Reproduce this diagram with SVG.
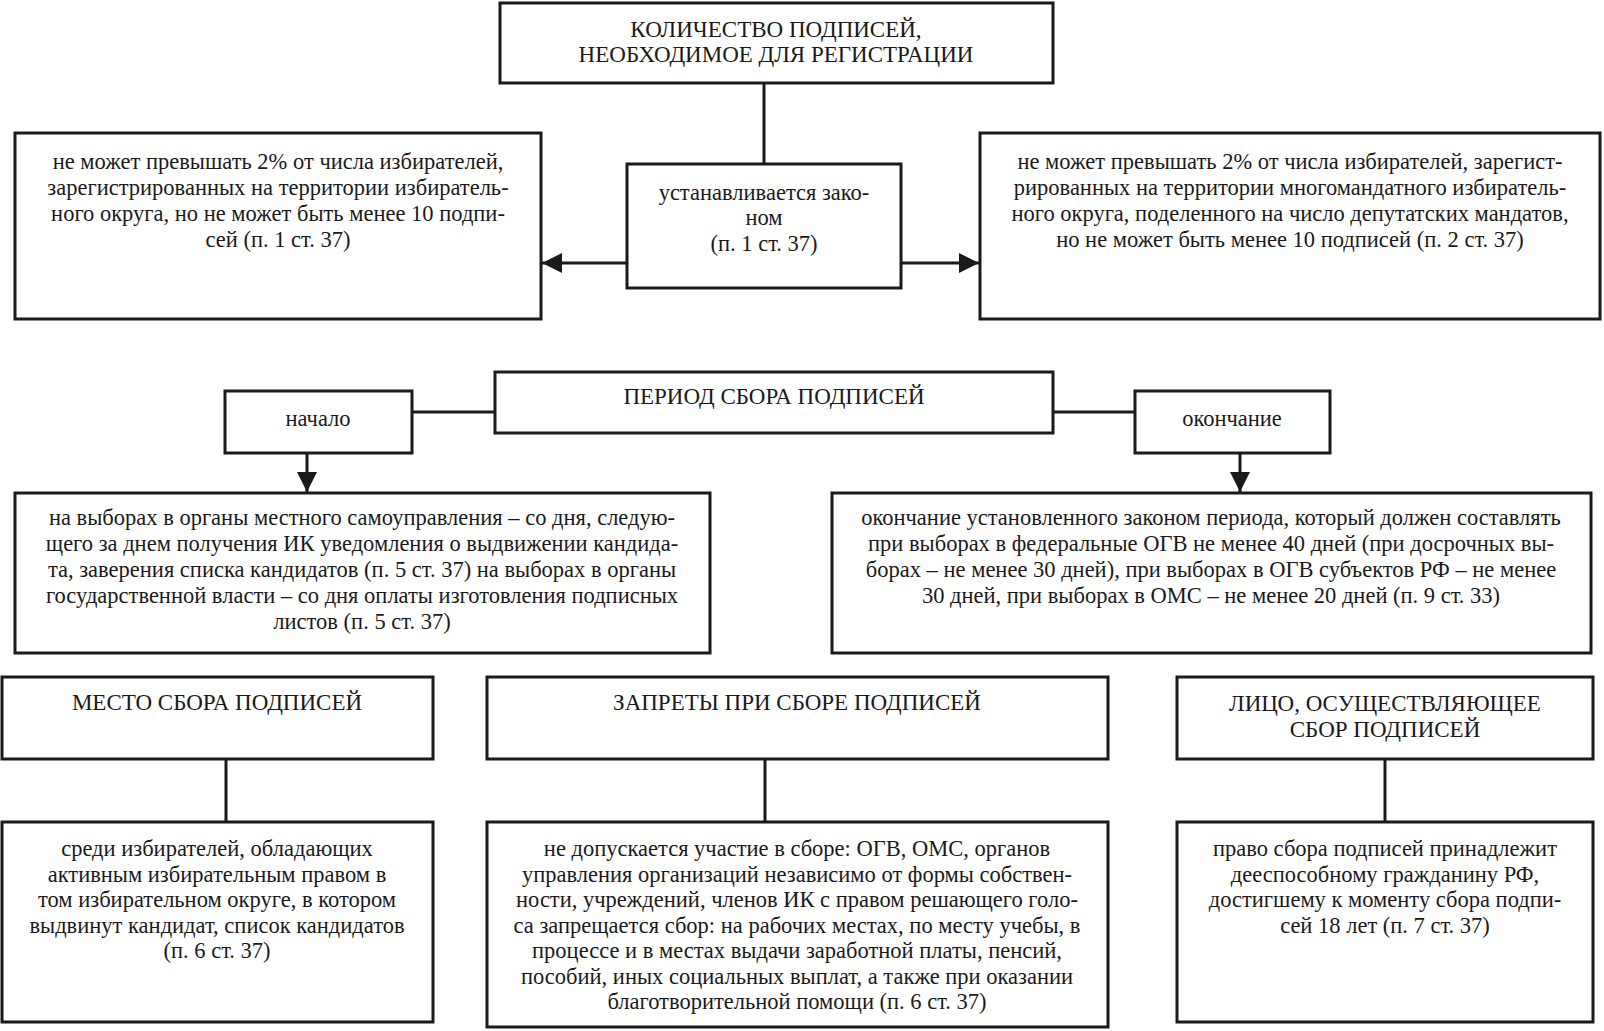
<svg xmlns="http://www.w3.org/2000/svg" width="1604" height="1031" viewBox="0 0 1604 1031">
<style>
.box{fill:#fff;stroke:#1a1a1a;stroke-width:3}
.t{font-family:"Liberation Serif","Times New Roman",serif;font-size:22.5px;fill:#1a1a1a;text-anchor:middle}
.h{font-family:"Liberation Serif","Times New Roman",serif;font-size:23px;fill:#1a1a1a;text-anchor:middle}
.c{stroke:#1a1a1a;stroke-width:3;fill:none}
</style>
<defs>
<marker id="ah" markerUnits="userSpaceOnUse" markerWidth="22" markerHeight="22" refX="20" refY="10" orient="auto">
<path d="M0,0 L20,10 L0,20 Z" fill="#1a1a1a"/>
</marker>
</defs>
<rect width="1604" height="1031" fill="#fff"/>
<g id="connectors">
<line class="c" x1="764" y1="83" x2="764" y2="164"/>
<line class="c" x1="626" y1="263" x2="542" y2="263" marker-end="url(#ah)"/>
<line class="c" x1="901" y1="263" x2="979" y2="263" marker-end="url(#ah)"/>
<line class="c" x1="412" y1="412" x2="495" y2="412"/>
<line class="c" x1="1053" y1="412" x2="1135" y2="412"/>
<line class="c" x1="307" y1="453" x2="307" y2="492" marker-end="url(#ah)"/>
<line class="c" x1="1240" y1="453" x2="1240" y2="492" marker-end="url(#ah)"/>
<line class="c" x1="226" y1="759" x2="226" y2="822"/>
<line class="c" x1="765" y1="759" x2="765" y2="822"/>
<line class="c" x1="1385" y1="759" x2="1385" y2="822"/>
</g>
<g id="n-kolichestvo">
<rect class="box" x="500" y="3" width="553" height="80"/>
<text class="h" x="776" y="37">КОЛИЧЕСТВО ПОДПИСЕЙ,</text>
<text class="h" x="776" y="62">НЕОБХОДИМОЕ ДЛЯ РЕГИСТРАЦИИ</text>
</g>
<g id="n-zakon">
<rect class="box" x="627" y="164" width="274" height="124"/>
<text class="t" x="764" y="200">устанавливается зако-</text>
<text class="t" x="764" y="225">ном</text>
<text class="t" x="764" y="251">(п. 1 ст. 37)</text>
</g>
<g id="n-left-top">
<rect class="box" x="15" y="133" width="526" height="186"/>
<text class="t" x="278" y="169">не может превышать 2% от числа избирателей,</text>
<text class="t" x="278" y="195">зарегистрированных на территории избиратель-</text>
<text class="t" x="278" y="221">ного округа, но не может быть менее 10 подпи-</text>
<text class="t" x="278" y="247">сей (п. 1 ст. 37)</text>
</g>
<g id="n-right-top">
<rect class="box" x="980" y="133" width="620" height="186"/>
<text class="t" x="1290" y="169">не может превышать 2% от числа избирателей, зарегист-</text>
<text class="t" x="1290" y="195">рированных на территории многомандатного избиратель-</text>
<text class="t" x="1290" y="221">ного округа, поделенного на число депутатских мандатов,</text>
<text class="t" x="1290" y="247">но не может быть менее 10 подписей (п. 2 ст. 37)</text>
</g>
<g id="n-period">
<rect class="box" x="495" y="372" width="558" height="61"/>
<text class="h" x="774" y="404">ПЕРИОД СБОРА ПОДПИСЕЙ</text>
</g>
<g id="n-nachalo">
<rect class="box" x="225" y="391" width="187" height="62"/>
<text class="t" x="318" y="426">начало</text>
</g>
<g id="n-okonchanie">
<rect class="box" x="1135" y="391" width="195" height="62"/>
<text class="t" x="1232" y="426">окончание</text>
</g>
<g id="n-start">
<rect class="box" x="15" y="493" width="695" height="160"/>
<text class="t" x="362" y="525">на выборах в органы местного самоуправления – со дня, следую-</text>
<text class="t" x="362" y="551">щего за днем получения ИК уведомления о выдвижении кандида-</text>
<text class="t" x="362" y="577">та, заверения списка кандидатов (п. 5 ст. 37) на выборах в органы</text>
<text class="t" x="362" y="603">государственной власти – со дня оплаты изготовления подписных</text>
<text class="t" x="362" y="629">листов (п. 5 ст. 37)</text>
</g>
<g id="n-end">
<rect class="box" x="832" y="493" width="759" height="160"/>
<text class="t" x="1211" y="525">окончание установленного законом периода, который должен составлять</text>
<text class="t" x="1211" y="551">при выборах в федеральные ОГВ не менее 40 дней (при досрочных вы-</text>
<text class="t" x="1211" y="577">борах – не менее 30 дней), при выборах в ОГВ субъектов РФ – не менее</text>
<text class="t" x="1211" y="603">30 дней, при выборах в ОМС – не менее 20 дней (п. 9 ст. 33)</text>
</g>
<g id="n-mesto">
<rect class="box" x="2" y="677" width="431" height="82"/>
<text class="h" x="217" y="710">МЕСТО СБОРА ПОДПИСЕЙ</text>
</g>
<g id="n-zaprety">
<rect class="box" x="487" y="677" width="621" height="82"/>
<text class="h" x="797" y="710">ЗАПРЕТЫ ПРИ СБОРЕ ПОДПИСЕЙ</text>
</g>
<g id="n-lico">
<rect class="box" x="1177" y="677" width="416" height="82"/>
<text class="h" x="1385" y="711">ЛИЦО, ОСУЩЕСТВЛЯЮЩЕЕ</text>
<text class="h" x="1385" y="737">СБОР ПОДПИСЕЙ</text>
</g>
<g id="n-mesto-text">
<rect class="box" x="2" y="822" width="431" height="200"/>
<text class="t" x="217" y="856">среди избирателей, обладающих</text>
<text class="t" x="217" y="882">активным избирательным правом в</text>
<text class="t" x="217" y="907">том избирательном округе, в котором</text>
<text class="t" x="217" y="933">выдвинут кандидат, список кандидатов</text>
<text class="t" x="217" y="958">(п. 6 ст. 37)</text>
</g>
<g id="n-zaprety-text">
<rect class="box" x="487" y="822" width="621" height="205"/>
<text class="t" x="797" y="856">не допускается участие в сборе: ОГВ, ОМС, органов</text>
<text class="t" x="797" y="882">управления организаций независимо от формы собствен-</text>
<text class="t" x="797" y="907">ности, учреждений, членов ИК с правом решающего голо-</text>
<text class="t" x="797" y="933">са запрещается сбор: на рабочих местах, по месту учебы, в</text>
<text class="t" x="797" y="958">процессе и в местах выдачи заработной платы, пенсий,</text>
<text class="t" x="797" y="984">пособий, иных социальных выплат, а также при оказании</text>
<text class="t" x="797" y="1009">благотворительной помощи (п. 6 ст. 37)</text>
</g>
<g id="n-lico-text">
<rect class="box" x="1177" y="822" width="416" height="200"/>
<text class="t" x="1385" y="856">право сбора подписей принадлежит</text>
<text class="t" x="1385" y="882">дееспособному гражданину РФ,</text>
<text class="t" x="1385" y="907">достигшему к моменту сбора подпи-</text>
<text class="t" x="1385" y="933">сей 18 лет (п. 7 ст. 37)</text>
</g>
</svg>
